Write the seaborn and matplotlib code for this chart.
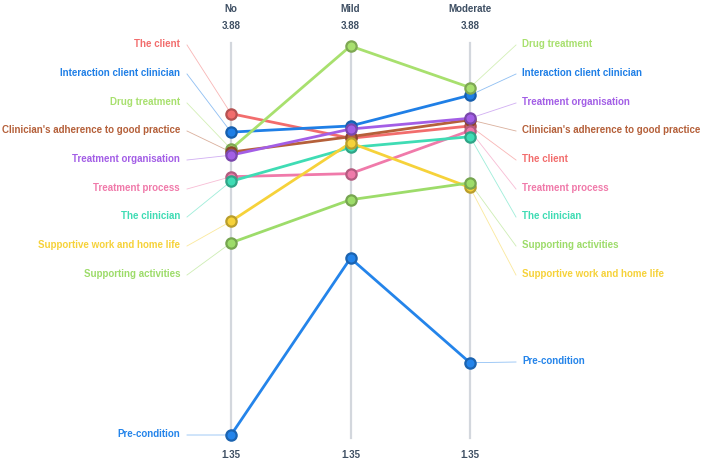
import matplotlib
matplotlib.use("Agg")
import matplotlib.pyplot as plt
import seaborn as sns
import pandas as pd
import numpy as np
from matplotlib.colors import to_rgb

categories = ["No", "Mild", "Moderate"]
series = ["The client", "Interaction client clinician", "Drug treatment",
          "Clinician's adherence to good practice", "Treatment organisation",
          "Treatment process", "The clinician", "Supportive work and home life",
          "Supporting activities", "Pre-condition"]
v_no = [3.44, 3.32, 3.21, 3.19, 3.17, 3.03, 3.00, 2.74, 2.60, 1.35]
v_mild = [3.28, 3.36, 3.88, 3.29, 3.34, 3.05, 3.22, 3.25, 2.88, 2.50]
v_moderate = [3.36, 3.56, 3.61, 3.40, 3.41, 3.33, 3.29, 2.96, 2.99, 1.82]
colors = ["#f26d6d", "#1f7fe6", "#a8e06e", "#b5603a", "#a35ee6",
          "#f07aaa", "#3fdcb4", "#f6d23a", "#9ddc6a", "#2484ea"]
axis_min_label = "1.35"
axis_max_label = "3.88"

left_order = series
right_order = ["Drug treatment", "Interaction client clinician", "Treatment organisation",
               "Clinician's adherence to good practice", "The client", "Treatment process",
               "The clinician", "Supporting activities", "Supportive work and home life",
               "Pre-condition"]

rows = []
for s, a, b, c in zip(series, v_no, v_mild, v_moderate):
    for cat, v in zip(categories, (a, b, c)):
        rows.append({"series": s, "cat": cat, "x": categories.index(cat), "value": v})
df = pd.DataFrame(rows)

W, H = 702, 462
fig = plt.figure(figsize=(W / 100, H / 100), dpi=100)
ax = fig.add_axes([0, 0, 1, 1])
sx = 119.5
x0 = 231
sy = 153.75
ytop_px = 46
ax.set_xlim(-x0 / sx, (W - x0) / sx)
ax.set_ylim(1.35 - (H - 435) / sy, 3.88 + ytop_px / sy)
ax.axis("off")

def py(p):  # pixel y -> data
    return 3.88 - (p - ytop_px) / sy
def px(p):
    return (p - x0) / sx

# axis lines
for i in range(3):
    ax.plot([i, i], [py(43), py(438)], color="#d3d7dd", lw=1.6, zorder=1)

palette = dict(zip(series, colors))
sns.lineplot(data=df, x="x", y="value", hue="series", palette=palette,
             hue_order=series, lw=2.0, legend=False, ax=ax, sort=False, zorder=3)

def darker(c, f=0.75):
    r, g, b = to_rgb(c)
    return (r * f, g * f, b * f)

for s, c in zip(series, colors):
    sub = df[df.series == s]
    ax.scatter(sub.x, sub.value, s=55, color=c, edgecolor=darker(c), linewidths=1.6, zorder=4)

fnt = dict(family="Liberation Sans", fontweight="bold", fontsize=7)
lp = [44, 73, 102, 130, 159, 188, 216, 245, 274]
vals = dict(zip(series, zip(v_no, v_mild, v_moderate)))
for i, s in enumerate(left_order):
    ypx = 434 if s == "Pre-condition" else lp[i]
    c = palette[s]
    ax.text(px(180), py(ypx), s, ha="right", va="center", color=c, **fnt)
    ax.plot([px(187), 0], [py(ypx + 1), vals[s][0]], color=c, lw=0.6, alpha=0.5, zorder=2)
for i, s in enumerate(right_order):
    ypx = 361 if s == "Pre-condition" else lp[i]
    c = palette[s]
    ax.text(px(522), py(ypx), s, ha="left", va="center", color=c, **fnt)
    ax.plot([2, px(516)], [vals[s][2], py(ypx + 1)], color=c, lw=0.6, alpha=0.5, zorder=2)

hc = "#3e4f63"
for i, cat in enumerate(categories):
    ax.text(i, py(9), cat, ha="center", va="center", color=hc, **fnt)
    ax.text(i, py(26), axis_max_label, ha="center", va="center", color=hc, **fnt)
    ax.text(i, py(455), axis_min_label, ha="center", va="center", color=hc, **fnt)

fig.savefig("out.png", dpi=100)
